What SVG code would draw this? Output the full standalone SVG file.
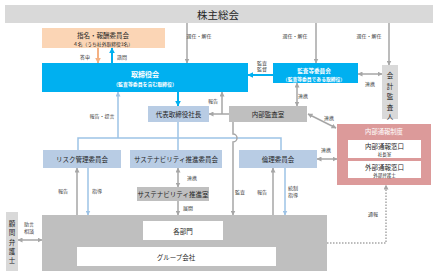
<svg xmlns="http://www.w3.org/2000/svg" width="433" height="274" viewBox="0 0 433 274">
<style>
text{font-family:"Noto Sans CJK JP","Noto Sans",sans-serif;text-anchor:middle;dominant-baseline:central}
.lb{font-size:5px;fill:#404040}
.bx{font-size:6.5px;fill:#262626}
.wt{fill:#ffffff}
.g{stroke:#a6a6a6;stroke-width:1.5;fill:none}
.lbl{stroke:#9dc3e6;stroke-width:1.5;fill:none}
.blu{stroke:#00b0f0;stroke-width:2;fill:none}
</style>
<defs>
<marker id="ag" viewBox="0 0 10 10" refX="9" refY="5" markerWidth="5" markerHeight="5" markerUnits="userSpaceOnUse" orient="auto-start-reverse"><path d="M0,0 L10,5 L0,10 z" fill="#a6a6a6"/></marker>
<marker id="ab" viewBox="0 0 10 10" refX="9" refY="5" markerWidth="6" markerHeight="6" markerUnits="userSpaceOnUse" orient="auto-start-reverse"><path d="M0,0 L10,5 L0,10 z" fill="#00b0f0"/></marker>
<marker id="ap" viewBox="0 0 10 10" refX="9" refY="5" markerWidth="6" markerHeight="6" markerUnits="userSpaceOnUse" orient="auto-start-reverse"><path d="M0,0 L10,5 L0,10 z" fill="#f4b183"/></marker>
<marker id="al" viewBox="0 0 10 10" refX="9" refY="5" markerWidth="5" markerHeight="5" markerUnits="userSpaceOnUse" orient="auto-start-reverse"><path d="M0,0 L10,5 L0,10 z" fill="#9dc3e6"/></marker>
</defs>
<rect width="433" height="274" fill="#ffffff"/>

<g id="connectors">
<path class="g" d="M187,23 V63" marker-end="url(#ag)"/>
<path class="g" d="M316,23 V63" marker-end="url(#ag)"/>
<path class="g" d="M389,23 V65" marker-end="url(#ag)"/>
<path d="M98,48 V63" stroke="#f4b183" stroke-width="2" fill="none" marker-end="url(#ap)"/>
<path class="blu" d="M112,63 V48" marker-end="url(#ab)"/>
<path class="blu" d="M273,75 H248" stroke-width="1.5" marker-end="url(#ab)"/>
<path class="g" d="M358,74 H382" marker-start="url(#ag)" marker-end="url(#ag)"/>
<path class="g" d="M297,83 V106" marker-start="url(#ag)" marker-end="url(#ag)"/>
<path class="blu" d="M178,92 V106" marker-end="url(#ab)"/>
<path class="g" d="M229,114 H209" marker-end="url(#ag)"/>
<path class="g" d="M222,114 V92" marker-end="url(#ag)"/>
<path class="g" d="M308,114 L336,128" marker-start="url(#ag)" marker-end="url(#ag)"/>
<path class="g" d="M317,159 H337" marker-start="url(#ag)" marker-end="url(#ag)"/>
<path class="lbl" d="M178,122 V150"/>
<path class="lbl" d="M78,150 V138 H281 V150"/>
<path class="lbl" d="M118,138 V92" marker-end="url(#al)"/>
<path class="g" d="M233,122 V134 A4,4 0 0 1 233,142 V215" marker-end="url(#ag)"/>
<path class="g" d="M178,168 V187" marker-start="url(#ag)" marker-end="url(#ag)"/>
<path class="g" d="M178,201 V215" marker-end="url(#ag)"/>
<path class="g" d="M77,215 V168" marker-end="url(#ag)"/>
<path class="lbl" d="M88,168 V215" marker-end="url(#al)"/>
<path class="g" d="M273,215 V168" marker-end="url(#ag)"/>
<path class="lbl" d="M285,168 V215" marker-end="url(#al)"/>
<path class="g" d="M18,240 H42" marker-start="url(#ag)" marker-end="url(#ag)"/>
<path d="M327,243 H386 V185" stroke="#a6a6a6" stroke-width="1.5" stroke-dasharray="1.5 1.5" fill="none" marker-end="url(#ag)"/>

<text class="lb" x="85" y="56">答申</text>
<text class="lb" x="122" y="56">諮問</text>
<text class="lb" x="199" y="35">選任・解任</text>
<text class="lb" x="295" y="35">選任・解任</text>
<text class="lb" x="369" y="35">選任・解任</text>
<text class="lb" x="262" y="62">監査</text>
<text class="lb" x="262" y="68">監督</text>
<text class="lb" x="370" y="83">連携</text>
<text class="lb" x="303" y="95">連携</text>
<text class="lb" x="213" y="100">報告</text>
<text class="lb" x="102" y="115">報告・提言</text>
<text class="lb" x="329" y="117">連携</text>
<text class="lb" x="326" y="149">連携</text>
<text class="lb" x="192" y="177">連携</text>
<text class="lb" x="188" y="207">展開</text>
<text class="lb" x="63" y="190">報告</text>
<text class="lb" x="97" y="190">指導</text>
<text class="lb" x="240" y="191">監査</text>
<text class="lb" x="262" y="191">報告</text>
<text class="lb" x="293" y="187">統制</text>
<text class="lb" x="293" y="194">指導</text>
<text class="lb" x="373" y="213">通報</text>
<text class="lb" x="29" y="223">助言</text>
<text class="lb" x="29" y="230">相談</text>
</g>

<g id="shareholders">
<rect x="5" y="5" width="428" height="18" fill="#d9d9d9"/>
<text x="218" y="14" font-size="10.5" fill="#262626">株主総会</text>
</g>

<g id="nomination">
<rect x="42" y="28" width="123" height="20" fill="#fbd5b5"/>
<text class="bx" x="103" y="35" font-size="6.3">指名・報酬委員会</text>
<text x="103" y="43" font-size="4.8" fill="#262626">４名（うち社外取締役3名）</text>
</g>

<g id="board">
<rect x="42" y="63" width="206" height="29" fill="#00b0f0"/>
<text class="wt" x="145" y="74" font-size="7" font-weight="bold">取締役会</text>
<text class="wt" x="145" y="83" font-size="4.9" font-weight="bold">（監査等委員を含む取締役）</text>
</g>

<g id="audit-committee">
<rect x="273" y="63" width="85" height="20" fill="#00b0f0"/>
<text class="wt" x="314" y="70.5" font-size="5.6" font-weight="bold">監査等委員会</text>
<text class="wt" x="314" y="78.5" font-size="4.8" font-weight="bold">（監査等委員である取締役）</text>
</g>

<g id="accounting-auditor">
<rect x="382" y="65" width="16" height="54" fill="#d9d9d9"/>
<text class="bx" x="390" y="75" font-size="7">会</text>
<text class="bx" x="390" y="85.5" font-size="7">計</text>
<text class="bx" x="390" y="96" font-size="7">監</text>
<text class="bx" x="390" y="106.5" font-size="7">査</text>
<text class="bx" x="390" y="116" font-size="7">人</text>
</g>

<g id="president">
<rect x="148" y="106" width="61" height="16" fill="#b8cce4"/>
<text class="bx" x="178.5" y="114">代表取締役社長</text>
</g>

<g id="internal-audit">
<rect x="229" y="106" width="78" height="16" fill="#bfbfbf"/>
<text class="bx" x="268" y="114">内部監査室</text>
</g>

<g id="whistleblowing">
<rect x="337" y="124" width="94" height="61" fill="#dc9a9a"/>
<text class="wt" x="384" y="131.5" font-size="6.3">内部通報制度</text>
<rect x="348" y="140" width="73" height="18" fill="#ffffff"/>
<text class="bx" x="384.5" y="146">内部通報窓口</text>
<text x="384.5" y="154" font-size="4.5" fill="#262626">社長室</text>
<rect x="348" y="161" width="73" height="17" fill="#ffffff"/>
<text class="bx" x="384.5" y="167">外部通報窓口</text>
<text x="384.5" y="174.5" font-size="4.5" fill="#262626">外部弁護士</text>
</g>

<g id="risk-committee">
<rect x="43" y="150" width="78" height="18" fill="#b8cce4"/>
<text class="bx" x="82" y="159">リスク管理委員会</text>
</g>

<g id="sustainability-committee">
<rect x="130" y="150" width="92" height="18" fill="#b8cce4"/>
<text class="bx" x="176" y="159">サステナビリティ推進委員会</text>
</g>

<g id="ethics-committee">
<rect x="239" y="150" width="78" height="18" fill="#b8cce4"/>
<text class="bx" x="278" y="159">倫理委員会</text>
</g>

<g id="sustainability-office">
<rect x="137" y="187" width="72" height="14" fill="#bfbfbf"/>
<text class="bx" x="173" y="194" font-size="6">サステナビリティ推進室</text>
</g>

<g id="group">
<rect x="42" y="215" width="285" height="56" fill="#bfbfbf"/>
<rect x="143" y="221" width="80" height="19" fill="#ffffff"/>
<text class="bx" x="183" y="230.5">各部門</text>
<rect x="77" y="247" width="199" height="19" fill="#ffffff"/>
<text class="bx" x="176" y="256.5">グループ会社</text>
</g>

<g id="legal-counsel">
<rect x="6" y="212" width="12" height="59" fill="#d9d9d9"/>
<text class="bx" x="12" y="223" font-size="6">顧</text>
<text class="bx" x="12" y="232" font-size="6">問</text>
<text class="bx" x="12" y="242" font-size="6">弁</text>
<text class="bx" x="12" y="251" font-size="6">護</text>
<text class="bx" x="12" y="260" font-size="6">士</text>
</g>
</svg>
